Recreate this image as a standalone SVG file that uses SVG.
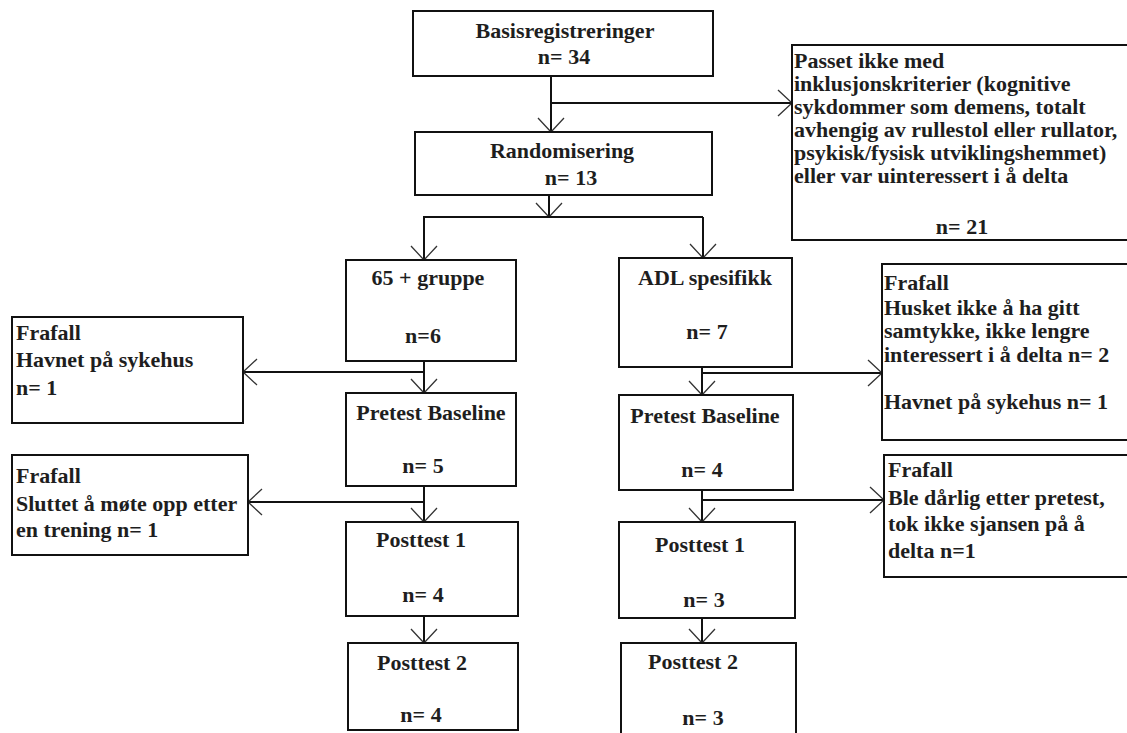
<svg xmlns="http://www.w3.org/2000/svg" width="1127" height="733" viewBox="0 0 1127 733">
<style>
.box{fill:#fff;stroke:#111;stroke-width:2}
.t{font-family:"Liberation Serif","Times New Roman",serif;font-weight:bold;font-size:22px;fill:#1e1e1e}
.c{text-anchor:middle}
.ln{fill:none;stroke:#111;stroke-width:2}
</style>
<defs>
<marker id="ah" markerUnits="userSpaceOnUse" orient="auto" markerWidth="30" markerHeight="30" refX="0" refY="0" viewBox="-15 -15 30 30" overflow="visible">
<path d="M-14,-13 L0,0 L-14,13" fill="none" stroke="#333" stroke-width="1.3"/>
</marker>
</defs>
<rect width="1127" height="733" fill="#fff"/>
<g id="connectors">
<path class="ln" d="M551,76 V132" marker-end="url(#ah)"/>
<path class="ln" d="M551,103 H792" marker-end="url(#ah)"/>
<path class="ln" d="M549,195 V217" marker-end="url(#ah)"/>
<path class="ln" d="M423,217 H703"/>
<path class="ln" d="M424,217 V260" marker-end="url(#ah)"/>
<path class="ln" d="M703,217 V258" marker-end="url(#ah)"/>
<path class="ln" d="M424,361 V393" marker-end="url(#ah)"/>
<path class="ln" d="M424,372 H243" marker-end="url(#ah)"/>
<path class="ln" d="M424,486 V522" marker-end="url(#ah)"/>
<path class="ln" d="M424,502 H248" marker-end="url(#ah)"/>
<path class="ln" d="M424,616 V643" marker-end="url(#ah)"/>
<path class="ln" d="M702,367 V395" marker-end="url(#ah)"/>
<path class="ln" d="M702,373 H882" marker-end="url(#ah)"/>
<path class="ln" d="M702,490 V522" marker-end="url(#ah)"/>
<path class="ln" d="M702,500 H884" marker-end="url(#ah)"/>
<path class="ln" d="M702,618 V643" marker-end="url(#ah)"/>
</g>
<g id="basis"><rect class="box" x="413" y="11" width="300" height="65"/>
<text class="t c" x="565" y="38">Basisregistreringer</text><text class="t c" x="564" y="64">n= 34</text></g>
<g id="random"><rect class="box" x="415" y="132" width="297" height="63"/>
<text class="t c" x="562" y="158">Randomisering</text><text class="t c" x="571" y="185">n= 13</text></g>
<g id="excluded"><rect class="box" x="792" y="45" width="340" height="195"/>
<text class="t" x="794" y="68">Passet ikke med</text>
<text class="t" x="794" y="91">inklusjonskriterier (kognitive</text>
<text class="t" x="794" y="114">sykdommer som demens, totalt</text>
<text class="t" x="794" y="137">avhengig av rullestol eller rullator,</text>
<text class="t" x="794" y="160">psykisk/fysisk utviklingshemmet)</text>
<text class="t" x="794" y="183">eller var uinteressert i å delta</text>
<text class="t c" x="962" y="234">n= 21</text></g>
<g id="g65"><rect class="box" x="346" y="260" width="170" height="101"/>
<text class="t c" x="428" y="285">65 + gruppe</text><text class="t c" x="423" y="343">n=6</text></g>
<g id="frafall1"><rect class="box" x="12" y="317" width="231" height="106"/>
<text class="t" x="16" y="340">Frafall</text><text class="t" x="16" y="367">Havnet på sykehus</text><text class="t" x="16" y="395">n= 1</text></g>
<g id="pretestL"><rect class="box" x="346" y="393" width="170" height="93"/>
<text class="t c" x="431" y="420">Pretest Baseline</text><text class="t c" x="423" y="473">n= 5</text></g>
<g id="frafall2"><rect class="box" x="12" y="455" width="236" height="100"/>
<text class="t" x="16" y="483">Frafall</text><text class="t" x="16" y="511">Sluttet å møte opp etter</text><text class="t" x="16" y="537">en trening n= 1</text></g>
<g id="post1L"><rect class="box" x="346" y="522" width="172" height="94"/>
<text class="t c" x="421" y="547">Posttest 1</text><text class="t c" x="423" y="602">n= 4</text></g>
<g id="post2L"><rect class="box" x="348" y="643" width="170" height="87"/>
<text class="t c" x="422" y="670">Posttest 2</text><text class="t c" x="421" y="722">n= 4</text></g>
<g id="adl"><rect class="box" x="619" y="258" width="173" height="109"/>
<text class="t c" x="705" y="285">ADL spesifikk</text><text class="t c" x="707" y="339">n= 7</text></g>
<g id="frafall3"><rect class="box" x="882" y="264" width="250" height="176"/>
<text class="t" x="884" y="290">Frafall</text><text class="t" x="884" y="315">Husket ikke å ha gitt</text><text class="t" x="884" y="338">samtykke, ikke lengre</text><text class="t" x="884" y="362">interessert i å delta n= 2</text><text class="t" x="884" y="409">Havnet på sykehus n= 1</text></g>
<g id="pretestR"><rect class="box" x="619" y="395" width="174" height="95"/>
<text class="t c" x="705" y="423">Pretest Baseline</text><text class="t c" x="702" y="477">n= 4</text></g>
<g id="frafall4"><rect class="box" x="884" y="455" width="248" height="122"/>
<text class="t" x="888" y="477">Frafall</text><text class="t" x="888" y="505">Ble dårlig etter pretest,</text><text class="t" x="888" y="531">tok ikke sjansen på å</text><text class="t" x="888" y="558">delta n=1</text></g>
<g id="post1R"><rect class="box" x="619" y="522" width="176" height="96"/>
<text class="t c" x="700" y="552">Posttest 1</text><text class="t c" x="704" y="607">n= 3</text></g>
<g id="post2R"><rect class="box" x="621" y="643" width="175" height="97"/>
<text class="t c" x="693" y="669">Posttest 2</text><text class="t c" x="703" y="725">n= 3</text></g>
</svg>
